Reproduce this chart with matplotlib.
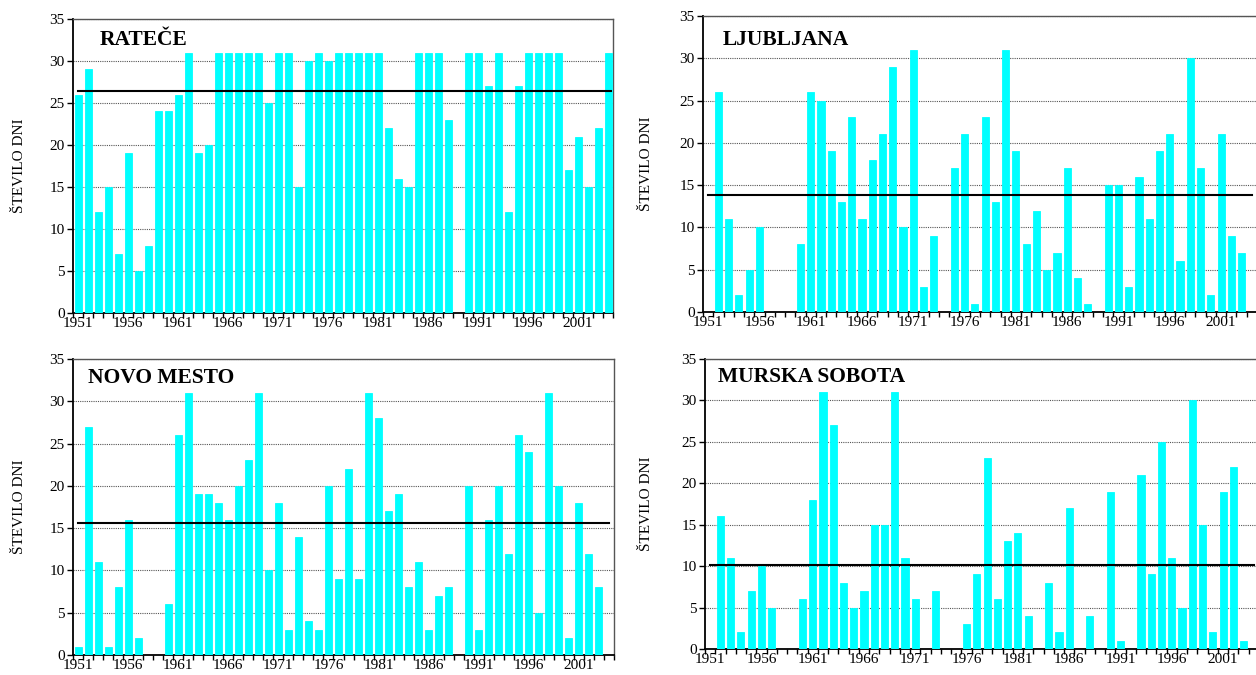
import matplotlib
matplotlib.use("Agg")
import matplotlib.pyplot as plt
from matplotlib.ticker import FixedLocator, NullFormatter
import numpy as np

years = list(range(1951, 2005))
tick_years = list(range(1951, 2002, 5))

ratece = [26, 29, 12, 15, 7, 19, 5, 8, 24, 24,
          26, 31, 19, 20, 31, 31, 31, 31, 31, 25,
          31, 31, 15, 30, 31, 30, 31, 31, 31, 31,
          31, 22, 16, 15, 31, 31, 31, 23, 0, 31,
          31, 27, 31, 12, 27, 31, 31, 31, 31, 17,
          21, 15, 22, 31]
ljubljana = [0, 26, 11, 2, 5, 10, 0, 0, 0, 8,
             26, 25, 19, 13, 23, 11, 18, 21, 29, 10,
             31, 3, 9, 0, 17, 21, 1, 23, 13, 31,
             19, 8, 12, 5, 7, 17, 4, 1, 0, 15,
             15, 3, 16, 11, 19, 21, 6, 30, 17, 2,
             21, 9, 7, 0]
novo_mesto = [1, 27, 11, 1, 8, 16, 2, 0, 0, 6,
              26, 31, 19, 19, 18, 16, 20, 23, 31, 10,
              18, 3, 14, 4, 3, 20, 9, 22, 9, 31,
              28, 17, 19, 8, 11, 3, 7, 8, 0, 20,
              3, 16, 20, 12, 26, 24, 5, 31, 20, 2,
              18, 12, 8, 0]
murska_sobota = [0, 16, 11, 2, 7, 10, 5, 0, 0, 6,
                 18, 31, 27, 8, 5, 7, 15, 15, 31, 11,
                 6, 0, 7, 0, 0, 3, 9, 23, 6, 13,
                 14, 4, 0, 8, 2, 17, 0, 4, 0, 19,
                 1, 0, 21, 9, 25, 11, 5, 30, 15, 2,
                 19, 22, 1, 0]

stations = ["RATEČE", "LJUBLJANA", "NOVO MESTO", "MURSKA SOBOTA"]
series = [ratece, ljubljana, novo_mesto, murska_sobota]
means = [26.4, 13.85, 15.6, 10.1]
ylabel = "ŠTEVILO DNI"

W, H = 1256, 675
fig = plt.figure(figsize=(W / 100, H / 100), dpi=100)
plt.rcParams['font.family'] = ['Liberation Serif', 'DejaVu Serif']

# pixel boxes: left, right, top, bottom
boxes = [(73, 613, 19, 313), (703, 1257, 16, 312),
         (73, 614, 359, 655), (705, 1259, 359, 649)]
title_pos = [(0.05, 0.93), (0.036, 0.92), (0.028, 0.935), (0.023, 0.937)]
ylab_x = [20, 646, 20, 646]

for i, (name, vals, m) in enumerate(zip(stations, series, means)):
    l, r, t, b = boxes[i]
    ax = fig.add_axes([l / W, (H - b) / H, (r - l) / W, (b - t) / H])
    ax.bar(years, vals, width=0.7, color="#00FFFF", edgecolor="#00FFFF",
           linewidth=0.6, zorder=3)
    ax.set_xlim(1950.5, 2004.5)
    ax.set_ylim(0, 35)
    ax.set_yticks(range(0, 36, 5))
    ax.yaxis.grid(True, linestyle=(0, (1, 1)), color="#555555", linewidth=0.8, zorder=1)
    ax.set_axisbelow(True)
    # mean line
    ax.plot([1951, 2004.3 if i == 0 else 2004], [m, m], color="black", linewidth=1.5, zorder=4)
    # x ticks: boundaries (major, unlabeled) and labels at centers (minor)
    ax.xaxis.set_major_locator(FixedLocator([y + 0.5 for y in [1950] + years]))
    ax.xaxis.set_major_formatter(NullFormatter())
    ax.xaxis.set_minor_locator(FixedLocator(tick_years))
    ax.set_xticklabels([str(y) for y in tick_years], minor=True)
    ax.tick_params(axis="x", which="major", direction="out", length=3.5, width=1, color="black")
    ax.tick_params(axis="x", which="minor", length=0, labelsize=11, pad=3.2)
    ax.tick_params(axis="y", direction="out", length=4, width=1, labelsize=11, pad=2)
    for s in ["left", "bottom"]:
        ax.spines[s].set_color("black")
        ax.spines[s].set_linewidth(1.3)
    for s in ["top", "right"]:
        ax.spines[s].set_color("#555555")
        ax.spines[s].set_linewidth(1.0)
    ax.text(title_pos[i][0], title_pos[i][1], name, transform=ax.transAxes,
            fontsize=15.5, fontweight="bold", ha="left", va="center", zorder=5)
    fig.text(ylab_x[i] / W, (H - (t + b) / 2) / H, ylabel, rotation=90,
             ha="center", va="center", fontsize=11)

fig.savefig("out.png", dpi=100)
